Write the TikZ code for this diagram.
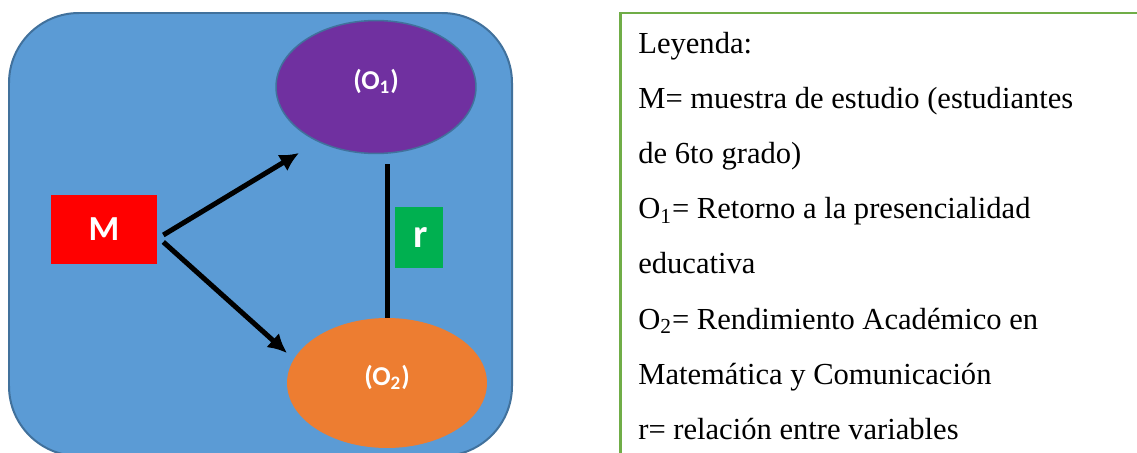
\documentclass[tikz,border=0pt]{standalone}
\usepackage{fontspec}
\setmainfont{Liberation Serif}
\newfontfamily\calibri{Carlito}
\usetikzlibrary{arrows.meta,shapes.geometric}
\definecolor{fondo}{HTML}{5B9BD5}
\definecolor{borde}{HTML}{41719C}
\definecolor{morado}{HTML}{7030A0}
\definecolor{naranja}{HTML}{ED7D31}
\definecolor{rojo}{HTML}{FF0000}
\definecolor{verde}{HTML}{00B050}
\definecolor{verdeley}{HTML}{70AD47}
\begin{document}
\begin{tikzpicture}[x=0.02cm,y=-0.02cm,
  flecha/.style={-{Latex[length=0.38cm,width=0.38cm]},line width=0.1cm},
  elipse/.style={ellipse,inner sep=0pt,minimum width=4cm,text=white,font=\calibri\bfseries\fontsize{15.5}{18}\selectfont},
  leyenda/.style={anchor=base west,inner sep=0pt,font=\fontsize{17.4}{20}\selectfont}]
\useasboundingbox (0,0) rectangle (1137,453);
\fill [white] (0,0) rectangle (1137,453);
\clip (0,0) rectangle (1137,453);
% fondo azul
\draw [draw=borde, fill=fondo, line width=0.04cm, rounded corners=1.4cm] (9,13) rectangle (512,456);
% variables
\node [elipse, draw=borde, line width=0.03cm, fill=morado, minimum height=2.66cm] (O1) at (376,87) {\raisebox{0.3cm}{(O\textsubscript{1})}};
\node [elipse, fill=naranja, minimum height=2.6cm] (O2) at (387,383) {\raisebox{0.3cm}{(O\textsubscript{2})}};
\node [fill=rojo, minimum width=2.12cm, minimum height=1.38cm, text=white, font=\calibri\bfseries\fontsize{20}{24}\selectfont] (M) at (104,229.5) {M};
\node [fill=verde, minimum width=0.96cm, minimum height=1.22cm, text=white, font=\calibri\bfseries\fontsize{23}{28}\selectfont] (r) at (419,237.5) {\hspace{0.08cm}r};
\coordinate (t1) at (299,153);
\coordinate (t2) at (287,353);
\coordinate (rtop) at (387,164);
\draw [flecha] ([xshift=0.12cm,yshift=-0.11cm]M.east) -- (t1);
\draw [flecha] ([xshift=0.12cm,yshift=-0.25cm]M.east) -- (t2);
\draw [line width=0.1cm] (rtop) -- (O2.north);
% leyenda
\draw [draw=verdeley, line width=0.06cm] (620,13) rectangle (1170,480);
\foreach \t [count=\i] in {Leyenda:,
  M= muestra de estudio (estudiantes,
  de 6to grado),
  O\textsubscript{1}= Retorno a la presencialidad,
  educativa,
  O\textsubscript{2}= Rendimiento Académico en,
  Matemática y Comunicación,
  r= relación entre variables}
  \node [leyenda] (ley\i) at (638,{53+55.2*(\i-1)}) {\t};
\end{tikzpicture}
\end{document}
